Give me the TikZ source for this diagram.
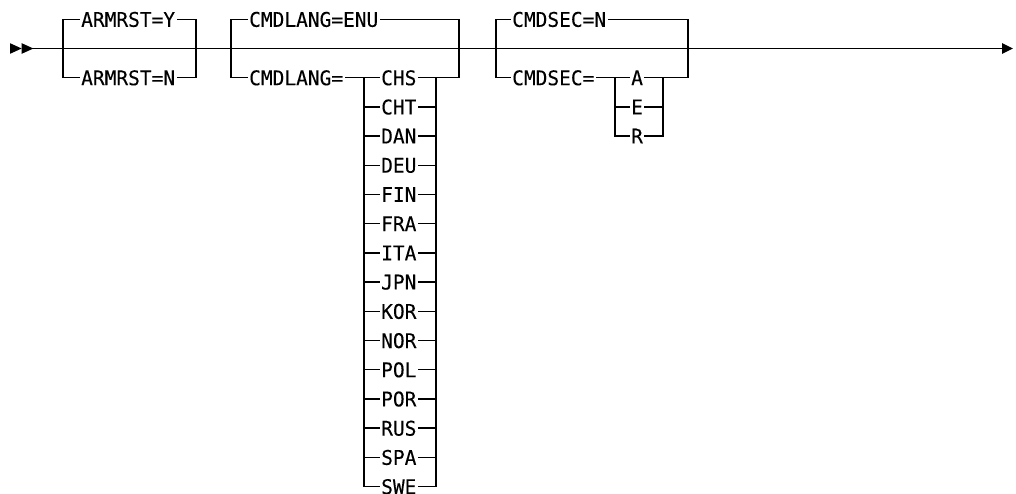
\documentclass[tikz,border=0pt]{standalone}
\usepackage{fontspec}
\newfontfamily\rrfont[FakeStretch=0.965,FakeBold=0.12]{DejaVu Sans Mono}
\usetikzlibrary{arrows.meta}
\begin{document}
\begin{tikzpicture}[x=1pt,y=-1pt,
  rail/.style={line width=1.3pt, line join=miter, line cap=rect},
  lbl/.style={font=\rrfont\fontsize{20.2}{21}\selectfont, inner xsep=2pt, inner ysep=0pt, text depth=0pt, anchor=west},
  tip/.style={fill=black}]
\useasboundingbox (0,0) rectangle (1016,493);
\clip (0,0) rectangle (1016,493);
% main line
\coordinate (start) at (33,48.5);
\coordinate (finish) at (1013,48.5);
\fill[tip] (10,43.2) -- (21.7,48.5) -- (10,53.8) -- cycle;
\fill[tip] (21.7,43.2) -- (33.4,48.5) -- (21.7,53.8) -- cycle;
\draw[line width=1.3pt, -{Triangle[length=11pt,width=10.5pt]}] (start) -- (finish);
% group 1
\coordinate (g1l) at (63,77.7);
\coordinate (g1r) at (196,77.7);
\node[lbl] (y1) at (79,19.3) {ARMRST=Y};
\node[lbl] (n1) at (79,77.7) {ARMRST=N};
\draw[rail] (y1.west) -| (g1l) -- (n1.west);
\draw[rail] (y1.east) -| (g1r) -- (n1.east);
% group 2
\coordinate (g2l) at (231,77.7);
\coordinate (g2r) at (459,77.7);
\coordinate (l2l) at (364,77.7);
\coordinate (l2r) at (436,77.7);
\node[lbl] (enu) at (247,19.3) {CMDLANG=ENU};
\node[lbl] (cl) at (247,77.7) {CMDLANG=};
\draw[rail] (enu.west) -| (g2l) -- (cl.west);
\draw[rail] (enu.east) -| (g2r) -- (l2r);
\foreach \t [count=\i from 0] in {CHS,CHT,DAN,DEU,FIN,FRA,ITA,JPN,KOR,NOR,POL,POR,RUS,SPA,SWE}{
  \node[lbl] (lang\i) at (379,77.7+\i*29.2) {\t};
  \draw[rail] (lang\i.west -| l2l) -- (lang\i.west);
  \draw[rail] (lang\i.east) -- (lang\i.east -| l2r);
}
\draw[rail] (cl.east) -- (l2l) |- (lang14.west);
\draw[rail] (l2r) |- (lang14.east);
% group 3
\coordinate (g3l) at (496,77.7);
\coordinate (g3r) at (688,77.7);
\coordinate (s3l) at (615,77.7);
\coordinate (s3r) at (663,77.7);
\node[lbl] (secn) at (510,19.3) {CMDSEC=N};
\node[lbl] (sec) at (510,77.7) {CMDSEC=};
\draw[rail] (secn.west) -| (g3l) -- (sec.west);
\draw[rail] (secn.east) -| (g3r) -- (s3r);
\foreach \t [count=\i from 0] in {A,E,R}{
  \node[lbl] (sv\i) at (629,77.7+\i*29.2) {\t};
  \draw[rail] (sv\i.west -| s3l) -- (sv\i.west);
  \draw[rail] (sv\i.east) -- (sv\i.east -| s3r);
}
\draw[rail] (sec.east) -- (s3l) |- (sv2.west);
\draw[rail] (s3r) |- (sv2.east);
\end{tikzpicture}
\end{document}
